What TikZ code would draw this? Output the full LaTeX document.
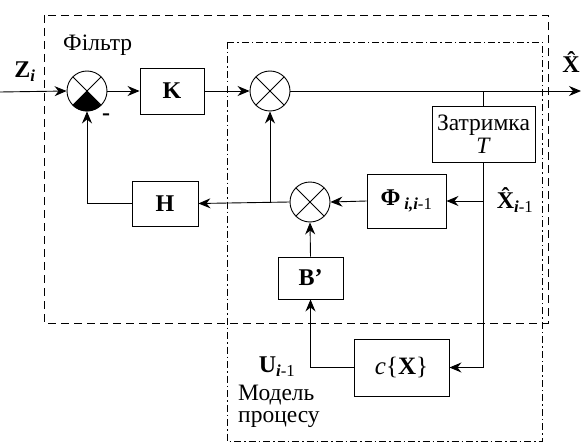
\documentclass[tikz,border=0pt]{standalone}
\usepackage{fontspec}
\setmainfont{Liberation Serif}
\usetikzlibrary{arrows.meta}
\begin{document}
\begin{tikzpicture}[x=1pt,y=-1pt,
  blk/.style={draw, line width=0.9pt, rectangle, inner sep=0pt},
  sum/.style={draw, line width=0.9pt, circle, minimum size=40pt, inner sep=0pt,
    path picture={\draw[line width=0.8pt] (path picture bounding box.north west) -- (path picture bounding box.south east)
      (path picture bounding box.north east) -- (path picture bounding box.south west);}},
  ln/.style={line width=0.9pt},
  arr/.style={ln, -{Stealth[length=12pt,width=10pt,inset=4pt]}},
  big/.style={font=\fontsize{24}{26}\selectfont\bfseries, inner sep=0pt},
  lbl/.style={font=\fontsize{23.5}{22}\selectfont, align=left, inner sep=0pt},
  frame/.style={line width=0.8pt},
]
\useasboundingbox (0,0) rectangle (581,444);

% frames
\draw[frame, dash pattern=on 8pt off 5pt] (44,15) rectangle (548,323);
\draw[frame, dash pattern=on 7pt off 3pt on 1.5pt off 3pt] (227,42) rectangle (542,441);

% summers
\node[sum] (s1) at (87,91) {};
\fill (s1.center) -- (s1.south west) arc[start angle=225, end angle=315, radius=20pt] -- cycle;
\node[sum] (s2) at (270,91) {};
\node[sum] (s3) at (310,202) {};

% blocks
\node[blk, big, minimum width=64pt, minimum height=46pt] (K) at (172,91) {K};
\node[blk, big, minimum width=66pt, minimum height=45pt] (H) at (165,203.5) {H};
\node[blk, big, minimum width=79pt, minimum height=54pt] (Phi) at (406.5,201) {Φ\,\textsubscript{\textit{i,i}\mdseries-1}};
\node[blk, lbl, align=center, minimum width=103pt, minimum height=56pt] (D) at (483.5,134) {Затримка\\[1pt]\textit{T}};
\node[blk, big, minimum width=65pt, minimum height=42pt] (B) at (310.5,278) {B’};
\node[blk, minimum width=95pt, minimum height=57pt, font=\fontsize{25}{27}\selectfont, inner sep=0pt] (cX) at (401.5,367.5) {\textit{c}\{\textbf{X}\}};

% labels
\node[lbl, anchor=west] (filt) at (63,45) {Фільтр};
\node[big] (zi) at (25,72) {Z\textsubscript{\textit{i}}};
\node[big] (minus) at (106,117) {-};
\node[big] (xo) at (571,62) {\^{X}};
\node[big] (xi) at (515,200) {\^{X}\textsubscript{\textit{i}\mdseries-1}};
\node[big] (ui) at (277,367) {U\textsubscript{\textit{i}\mdseries-1}};
\node[lbl, anchor=north west] (mp) at (238,385) {Модель\\процесу};

% connectors
\coordinate (in) at (0,92);
\coordinate (out) at (581,91);
\coordinate (t1) at (483.5,91);
\coordinate (t2) at (483.5,201);
\draw[arr] (in) -- (s1.west);
\draw[arr] (s1.east) -- (K.west);
\draw[arr] (K.east) -- (s2.west);
\draw[arr] (s2.east) -- (out);
\draw[ln] (t1) -- (D.north);
\draw[arr] (D.south) |- (cX.east);
\draw[arr] (t2) -- (Phi.east);
\draw[arr] (Phi.west) -- (s3.east);
\draw[arr] (s3.west) -- (H.east);
\draw[arr] (s2.south |- s3.west) -- (s2.south);
\draw[arr] (H.west) -| (s1.south);
\draw[arr] (cX.west) -| (B.south);
\draw[arr] (B.north) -- (s3.south);
\end{tikzpicture}
\end{document}
